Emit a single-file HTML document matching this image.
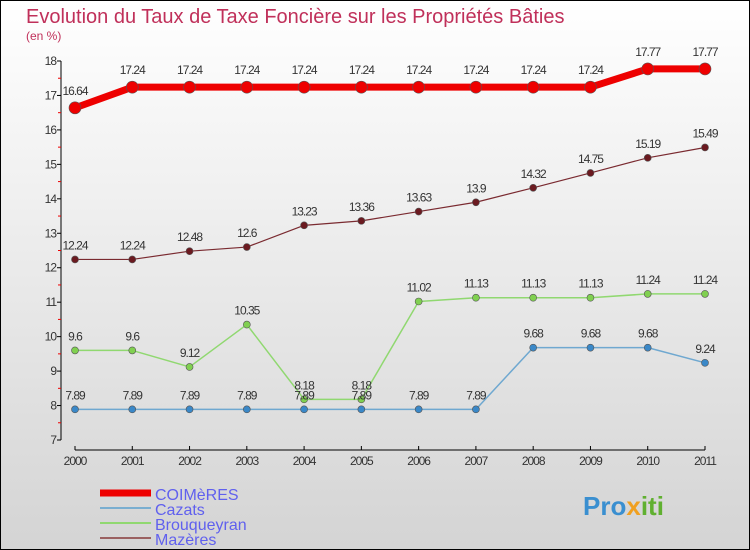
<!DOCTYPE html>
<html><head><meta charset="utf-8"><style>
body{margin:0;}
#c{position:relative;width:750px;height:550px;overflow:hidden;}
svg{display:block;font-family:"Liberation Sans",sans-serif;}
</style></head><body>
<div id="c">
<svg id="s" width="750" height="550" xmlns="http://www.w3.org/2000/svg">
<defs><linearGradient id="bg" x1="0" y1="0" x2="0" y2="1"><stop offset="0" stop-color="#ffffff"/><stop offset="1" stop-color="#d4d4d4"/></linearGradient></defs>
<rect x="0.5" y="0.5" width="749" height="549" fill="url(#bg)" stroke="#000"/>
<text x="26" y="23" font-size="20" fill="#c0305a">Evolution du Taux de Taxe Foncière sur les Propriétés Bâties</text>
<text x="26" y="40" font-size="12" fill="#c0305a">(en %)</text>
<g id="axes"></g><g id="series"></g><g id="legend"></g>
<text x="583" y="515" font-size="26" font-weight="bold" fill="#3a8fd0">Pro<tspan fill="#f0a020">x</tspan><tspan fill="#60b030">iti</tspan></text>
</svg></div>
<script>
const years=[2000,2001,2002,2003,2004,2005,2006,2007,2008,2009,2010,2011];
const coimeres=[16.64,17.24,17.24,17.24,17.24,17.24,17.24,17.24,17.24,17.24,17.77,17.77];
const cazats=[7.89,7.89,7.89,7.89,7.89,7.89,7.89,7.89,9.68,9.68,9.68,9.24];
const brouqueyran=[9.6,9.6,9.12,10.35,8.18,8.18,11.02,11.13,11.13,11.13,11.24,11.24];
const mazeres=[12.24,12.24,12.48,12.6,13.23,13.36,13.63,13.9,14.32,14.75,15.19,15.49];
const yTicks=[7,8,9,10,11,12,13,14,15,16,17,18];
const seriesNames=["COIMèRES","Cazats","Brouqueyran","Mazères"];
const NS="http://www.w3.org/2000/svg";
const X=i=>75+i*(630/11);
const Y=v=>440-(v-7)*(379/11);
function mk(tag,attrs,parent,txt){const e=document.createElementNS(NS,tag);for(const k in attrs)e.setAttribute(k,attrs[k]);if(txt!==undefined)e.textContent=txt;parent.appendChild(e);return e;}
const ax=document.getElementById('axes');
let e=mk('line',{x1:61,y1:Y(18),x2:61,y2:Y(7),stroke:'#000'},ax);


yTicks.forEach(t=>{
 mk('line',{x1:57,y1:Y(t),x2:61,y2:Y(t),stroke:'#000'},ax);
 let l=mk('text',{x:56,y:Y(t)+4,'font-size':12,'text-anchor':'end',fill:'#333','letter-spacing':'-1'},ax,t);
 
 
 if(t<18)mk('line',{x1:58,y1:Y(t+0.5),x2:61,y2:Y(t+0.5),stroke:'#e00'},ax);
});
e=mk('line',{x1:75,y1:450,x2:705,y2:450,stroke:'#000'},ax);


years.forEach((y,i)=>{
 mk('line',{x1:X(i),y1:446,x2:X(i),y2:450,stroke:'#000'},ax);
 let l=mk('text',{x:X(i),y:465,'font-size':12,'text-anchor':'middle',fill:'#333','letter-spacing':'-1'},ax,y);
 
 
});
const sg=document.getElementById('series');
function draw(data,name,col,lw,r,fill,labelOff){
 const g=mk('g',{},sg);
 
 
 const pl=mk('polyline',{points:data.map((v,i)=>X(i)+','+Y(v)).join(' '),fill:'none',stroke:col,'stroke-width':lw,'stroke-linejoin':'round'},g);
 
 
 data.forEach((v,i)=>{
  const c=mk('circle',{cx:X(i),cy:Y(v),r:r,fill:fill,stroke:'#555','stroke-width':0.6},g);
  
  
  const t=mk('text',{x:X(i),y:Y(v)-labelOff,'font-size':12,'text-anchor':'middle',fill:'#333','letter-spacing':'-1'},g,v);
  
  
 });
}
draw(mazeres,'mazeres','#7a2a30',1.2,3.5,'#6b1a20',10);
draw(brouqueyran,'brouqueyran','#90d870',1.5,3.5,'#80d050',10);
draw(cazats,'cazats','#6fa8d0',1.5,3.5,'#3a88c8',10);
draw(coimeres,'coimeres','#ee0000',7,6,'#ee0000',13);
const lg=document.getElementById('legend');
const lc=[['#ee0000',7],['#7aaed0',2],['#90d870',2],['#9a6060',2]];
seriesNames.forEach((n,i)=>{
 const y=493+i*15;
 const g=mk('g',{},lg);
 
 
 mk('line',{x1:100,y1:y,x2:151,y2:y,stroke:lc[i][0],'stroke-width':lc[i][1]},g);
 mk('text',{x:155,y:y+7,'font-size':16,fill:'#6060ee'},g,n);
});
</script>
</body></html>
